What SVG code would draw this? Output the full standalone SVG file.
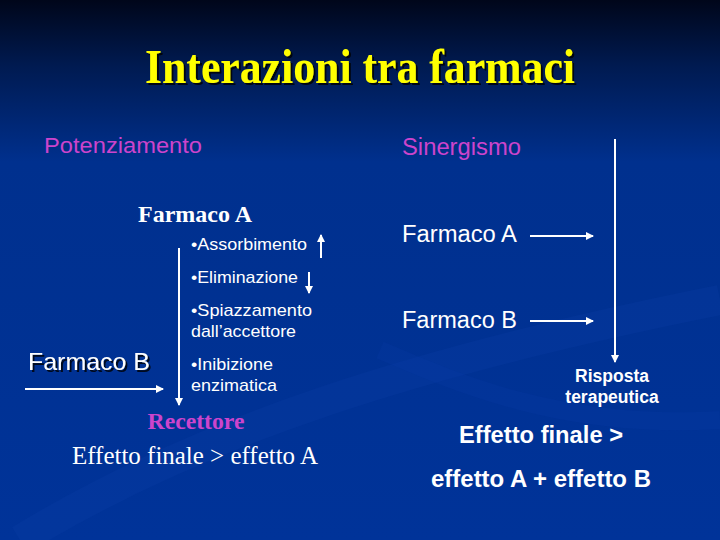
<svg xmlns="http://www.w3.org/2000/svg" width="720" height="540" viewBox="0 0 720 540">
<defs>
<linearGradient id="bg" x1="0" y1="0" x2="0" y2="1">
<stop offset="0" stop-color="#00061a"/>
<stop offset="0.12" stop-color="#001a50"/>
<stop offset="0.3" stop-color="#00308e"/>
<stop offset="1" stop-color="#003399"/>
</linearGradient>
<marker id="ah" viewBox="0 0 8 8" refX="7" refY="4" markerWidth="4" markerHeight="4" orient="auto" markerUnits="strokeWidth">
<path d="M0,0 L8,4 L0,8 z" fill="#ffffff"/>
</marker>
<filter id="sh" x="-5%" y="-5%" width="110%" height="120%">
<feDropShadow dx="2" dy="2" stdDeviation="0.5" flood-color="#000000" flood-opacity="0.8"/>
</filter>
</defs>
<style>
.sans{font-family:"Liberation Sans",Arial,sans-serif;fill:#ffffff}
.serif{font-family:"Liberation Serif","Times New Roman",serif;fill:#ffffff}
.mag{fill:#cc44cc}
.line{stroke:#ffffff;stroke-width:2;fill:none}
.arr{stroke:#ffffff;stroke-width:2;fill:none;marker-end:url(#ah)}
</style>
<rect width="720" height="540" fill="url(#bg)"/>
<path d="M20,540 C200,430 420,360 720,300" stroke="#0a3ea8" stroke-width="30" fill="none" opacity="0.25"/>
<path d="M380,350 C450,380 560,430 720,420" stroke="#0a3ea8" stroke-width="18" fill="none" opacity="0.2"/>

<g id="title"><text x="360" y="83" text-anchor="middle" class="serif" font-weight="bold" font-size="48" fill="#ffff00" style="fill:#ffff00" filter="url(#sh)" textLength="430" lengthAdjust="spacingAndGlyphs">Interazioni tra farmaci</text></g>

<g id="potenziamento"><text x="44" y="153" class="sans mag" font-size="22" textLength="158" lengthAdjust="spacingAndGlyphs">Potenziamento</text></g>
<g id="farmacoA-left"><text x="138" y="222" class="serif" font-weight="bold" font-size="24" textLength="114" lengthAdjust="spacingAndGlyphs">Farmaco A</text></g>
<g id="bullets" font-size="17">
<text x="191" y="250" class="sans" textLength="116" lengthAdjust="spacingAndGlyphs">•Assorbimento</text>
<text x="191" y="283" class="sans" textLength="107" lengthAdjust="spacingAndGlyphs">•Eliminazione</text>
<text x="191" y="316" class="sans" textLength="121" lengthAdjust="spacingAndGlyphs">•Spiazzamento</text>
<text x="191" y="337" class="sans" textLength="105" lengthAdjust="spacingAndGlyphs">dall’accettore</text>
<text x="191" y="370" class="sans" textLength="82" lengthAdjust="spacingAndGlyphs">•Inibizione</text>
<text x="191" y="391" class="sans" textLength="86" lengthAdjust="spacingAndGlyphs">enzimatica</text>
</g>
<g id="farmacoB-left"><text x="28" y="370" class="sans" font-size="24" filter="url(#sh)" textLength="122" lengthAdjust="spacingAndGlyphs">Farmaco B</text></g>
<g id="recettore"><text x="196" y="429" text-anchor="middle" class="serif mag" font-weight="bold" font-size="24" textLength="97" lengthAdjust="spacingAndGlyphs">Recettore</text></g>
<g id="effetto-left"><text x="195" y="464" text-anchor="middle" class="serif" font-size="25" textLength="246" lengthAdjust="spacingAndGlyphs">Effetto finale &gt; effetto A</text></g>

<g id="sinergismo"><text x="402" y="155" class="sans mag" font-size="23" textLength="119" lengthAdjust="spacingAndGlyphs">Sinergismo</text></g>
<g id="farmacoA-right"><text x="402" y="242" class="sans" font-size="23" textLength="115" lengthAdjust="spacingAndGlyphs">Farmaco A</text></g>
<g id="farmacoB-right"><text x="402" y="328" class="sans" font-size="23" textLength="115" lengthAdjust="spacingAndGlyphs">Farmaco B</text></g>
<g id="risposta" font-size="17.5" font-weight="bold">
<text x="612" y="382" text-anchor="middle" class="sans">Risposta</text>
<text x="612" y="403" text-anchor="middle" class="sans">terapeutica</text>
</g>
<g id="effetto-right" font-weight="bold" font-size="23">
<text x="541" y="443" text-anchor="middle" class="sans" textLength="164" lengthAdjust="spacingAndGlyphs">Effetto finale &gt;</text>
<text x="541" y="487" text-anchor="middle" class="sans" textLength="220" lengthAdjust="spacingAndGlyphs">effetto A + effetto B</text>
</g>

<g id="connectors">
<line x1="321" y1="258" x2="321" y2="235" class="arr"/>
<line x1="309" y1="272" x2="309" y2="293" class="arr"/>
<line x1="179" y1="248" x2="179" y2="405" class="arr"/>
<line x1="25" y1="389" x2="163" y2="389" class="arr"/>
<line x1="530" y1="236" x2="593" y2="236" class="arr"/>
<line x1="530" y1="321" x2="593" y2="321" class="arr"/>
<line x1="615" y1="139" x2="615" y2="362" class="arr"/>
</g>
</svg>
